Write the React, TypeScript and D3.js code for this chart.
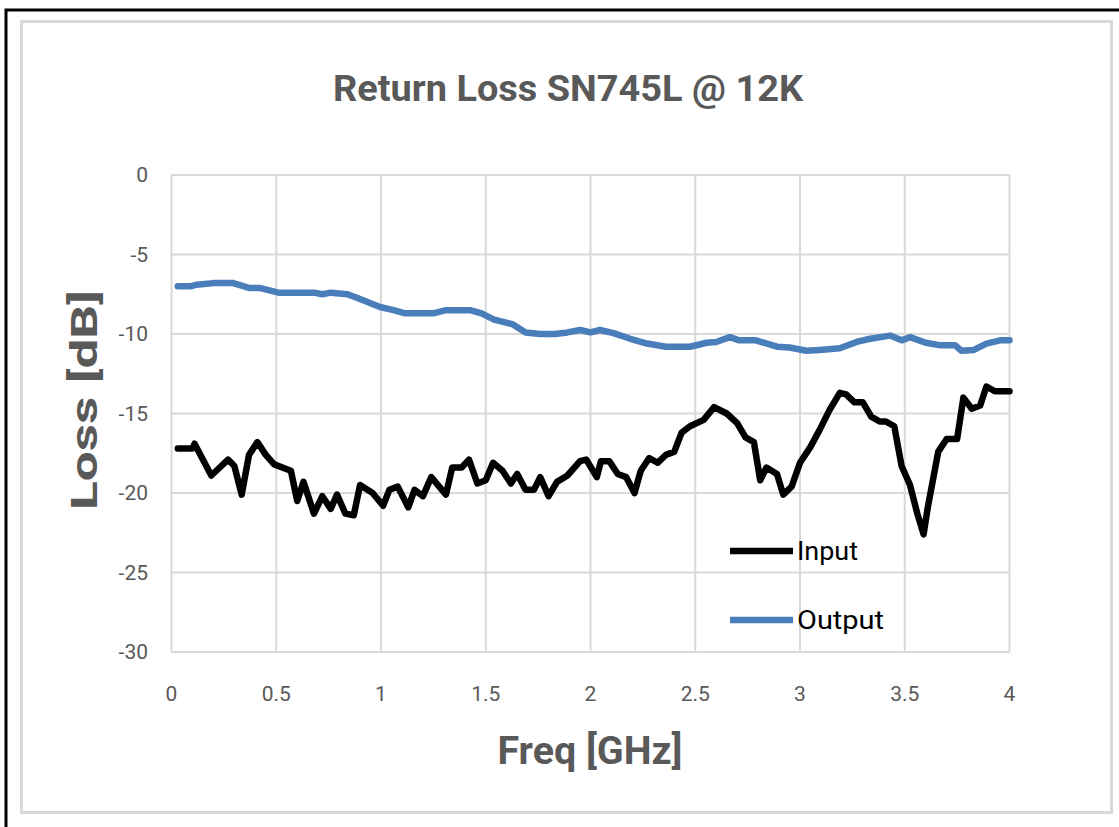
import React, { useEffect, useRef } from 'react';
import * as d3 from 'd3';

const inputFreq = [0.03, 0.1, 0.11, 0.19, 0.27, 0.3, 0.335, 0.37, 0.41, 0.45, 0.49, 0.57, 0.6, 0.63, 0.68, 0.72, 0.76, 0.79, 0.83, 0.87, 0.9, 0.96, 1.01, 1.04, 1.08, 1.13, 1.16, 1.2, 1.24, 1.31, 1.34, 1.385, 1.42, 1.46, 1.5, 1.535, 1.58, 1.62, 1.65, 1.69, 1.73, 1.76, 1.8, 1.84, 1.89, 1.95, 1.98, 2.03, 2.05, 2.09, 2.13, 2.17, 2.21, 2.24, 2.28, 2.32, 2.36, 2.4, 2.435, 2.475, 2.54, 2.59, 2.65, 2.7, 2.74, 2.78, 2.81, 2.84, 2.89, 2.92, 2.96, 3.0, 3.05, 3.095, 3.14, 3.19, 3.22, 3.26, 3.3, 3.34, 3.38, 3.41, 3.45, 3.485, 3.525, 3.56, 3.59, 3.61, 3.66, 3.7, 3.75, 3.78, 3.82, 3.86, 3.89, 3.93, 4.0];
const inputLoss = [-17.2, -17.2, -16.9, -18.9, -17.9, -18.3, -20.1, -17.6, -16.8, -17.6, -18.2, -18.6, -20.5, -19.3, -21.3, -20.2, -21.0, -20.1, -21.3, -21.4, -19.5, -20.0, -20.8, -19.8, -19.6, -20.9, -19.8, -20.2, -19.0, -20.1, -18.4, -18.4, -17.9, -19.4, -19.2, -18.1, -18.6, -19.4, -18.8, -19.8, -19.8, -19.0, -20.2, -19.3, -18.9, -18.0, -17.9, -19.0, -18.0, -18.0, -18.8, -19.0, -20.0, -18.6, -17.8, -18.1, -17.6, -17.4, -16.2, -15.8, -15.4, -14.6, -15.0, -15.6, -16.5, -16.8, -19.2, -18.4, -18.8, -20.1, -19.6, -18.1, -17.1, -16.0, -14.8, -13.7, -13.8, -14.3, -14.3, -15.2, -15.5, -15.5, -15.8, -18.3, -19.5, -21.3, -22.6, -20.9, -17.4, -16.6, -16.6, -14.0, -14.7, -14.5, -13.3, -13.6, -13.6];

const outputFreq = [0.03, 0.09, 0.12, 0.2, 0.295, 0.37, 0.42, 0.51, 0.68, 0.72, 0.76, 0.84, 0.9, 0.995, 1.06, 1.115, 1.25, 1.31, 1.425, 1.48, 1.54, 1.63, 1.69, 1.76, 1.83, 1.89, 1.95, 2.0, 2.045, 2.11, 2.19, 2.27, 2.36, 2.475, 2.555, 2.6, 2.665, 2.71, 2.79, 2.89, 2.95, 3.03, 3.095, 3.19, 3.27, 3.335, 3.43, 3.485, 3.525, 3.6, 3.665, 3.74, 3.77, 3.83, 3.89, 3.955, 4.0];
const outputLoss = [-7.0, -7.0, -6.9, -6.8, -6.8, -7.1, -7.1, -7.4, -7.4, -7.5, -7.4, -7.5, -7.8, -8.3, -8.5, -8.7, -8.7, -8.5, -8.5, -8.7, -9.1, -9.4, -9.9, -10.0, -10.0, -9.9, -9.75, -9.9, -9.75, -9.95, -10.3, -10.6, -10.8, -10.8, -10.55, -10.5, -10.2, -10.4, -10.4, -10.8, -10.85, -11.05, -11.0, -10.9, -10.5, -10.3, -10.1, -10.4, -10.2, -10.55, -10.7, -10.7, -11.05, -11.0, -10.6, -10.4, -10.4];

const xTicks = [0, 0.5, 1, 1.5, 2, 2.5, 3, 3.5, 4];
const yTicks = [0, -5, -10, -15, -20, -25, -30];

const seriesNames = ['Input', 'Output'];
const seriesColors = ['#000000', '#4a7ebb'];

const W = 1119;
const H = 827;
const grey = '#595959';
const gridCol = '#d9d9d9';
const font = 'Roboto, "Open Sans", sans-serif';

export default function App() {
  const ref = useRef<SVGSVGElement>(null);

  useEffect(() => {
    const svg = d3.select(ref.current);
    svg.selectAll('*').remove();

    const x = d3.scaleLinear().domain([0, 4]).range([171.5, 1009.5]);
    const y = d3.scaleLinear().domain([-30, 0]).range([652, 175]);

    svg.append('rect').attr('width', W).attr('height', H).attr('fill', '#fff');

    // outer black frame (top and left edges visible)
    svg.append('path')
      .attr('d', `M6,${H} L6,10 L${W},10`)
      .attr('fill', 'none').attr('stroke', '#000').attr('stroke-width', 3);

    // inner chart-area border
    svg.append('rect')
      .attr('x', 21.5).attr('y', 21.5).attr('width', 1090).attr('height', 791)
      .attr('fill', 'none').attr('stroke', gridCol).attr('stroke-width', 3);

    const g = svg.append('g');

    // grid
    g.selectAll('.hg').data(yTicks).enter().append('line')
      .attr('x1', x(0)).attr('x2', x(4))
      .attr('y1', d => y(d)).attr('y2', d => y(d))
      .attr('stroke', gridCol).attr('stroke-width', 2);
    g.selectAll('.vg').data(xTicks).enter().append('line')
      .attr('x1', d => x(d)).attr('x2', d => x(d))
      .attr('y1', y(0)).attr('y2', y(-30))
      .attr('stroke', gridCol).attr('stroke-width', 2);

    // tick labels
    g.selectAll('.yl').data(yTicks).enter().append('text')
      .attr('x', 148).attr('y', d => y(d)).attr('dy', '0.35em')
      .attr('text-anchor', 'end')
      .attr('font-family', font).attr('font-size', 21).attr('fill', grey)
      .text(d => d);
    g.selectAll('.xl').data(xTicks).enter().append('text')
      .attr('x', d => x(d)).attr('y', 701)
      .attr('text-anchor', 'middle')
      .attr('font-family', font).attr('font-size', 21).attr('fill', grey)
      .text(d => d);

    // series
    const line = d3.line<[number, number]>()
      .x(d => x(d[0])).y(d => y(d[1]))
      .curve(d3.curveLinear);
    const data: [number, number][][] = [
      inputFreq.map((f, i) => [f, inputLoss[i]]),
      outputFreq.map((f, i) => [f, outputLoss[i]]),
    ];
    data.forEach((pts, i) => {
      g.append('path').datum(pts)
        .attr('d', line)
        .attr('fill', 'none')
        .attr('stroke', seriesColors[i])
        .attr('stroke-width', 6.5)
        .attr('stroke-linejoin', 'round')
        .attr('stroke-linecap', 'round');
    });

    // legend
    const legY = [551, 620];
    seriesNames.forEach((name, i) => {
      g.append('line')
        .attr('x1', 730).attr('x2', 793)
        .attr('y1', legY[i]).attr('y2', legY[i])
        .attr('stroke', seriesColors[i]).attr('stroke-width', 6.5);
      g.append('text')
        .attr('x', 797).attr('y', legY[i] + 9)
        .attr('font-family', font).attr('font-size', 26).attr('fill', '#000')
        .attr('textLength', name === 'Input' ? 61 : 87)
        .attr('lengthAdjust', 'spacingAndGlyphs')
        .text(name);
    });

    // title
    svg.append('text')
      .attr('x', 568).attr('y', 101)
      .attr('text-anchor', 'middle')
      .attr('font-family', font).attr('font-size', 36).attr('font-weight', 700)
      .attr('fill', grey)
      .attr('textLength', 470).attr('lengthAdjust', 'spacingAndGlyphs')
      .text('Return Loss SN745L @ 12K');

    // axis titles
    svg.append('text')
      .attr('x', 590).attr('y', 764)
      .attr('text-anchor', 'middle')
      .attr('font-family', font).attr('font-size', 38).attr('font-weight', 700)
      .attr('fill', grey)
      .attr('textLength', 185).attr('lengthAdjust', 'spacingAndGlyphs')
      .text('Freq [GHz]');
    svg.append('text')
      .attr('transform', 'translate(97,400) rotate(-90)')
      .attr('text-anchor', 'middle')
      .attr('font-family', font).attr('font-size', 36).attr('font-weight', 700)
      .attr('fill', grey)
      .attr('textLength', 220).attr('lengthAdjust', 'spacingAndGlyphs')
      .text('Loss [dB]');
  }, []);

  return (
    <svg ref={ref} width={W} height={H}
      style={{ position: 'absolute', left: 0, top: 0, display: 'block' }} />
  );
}
